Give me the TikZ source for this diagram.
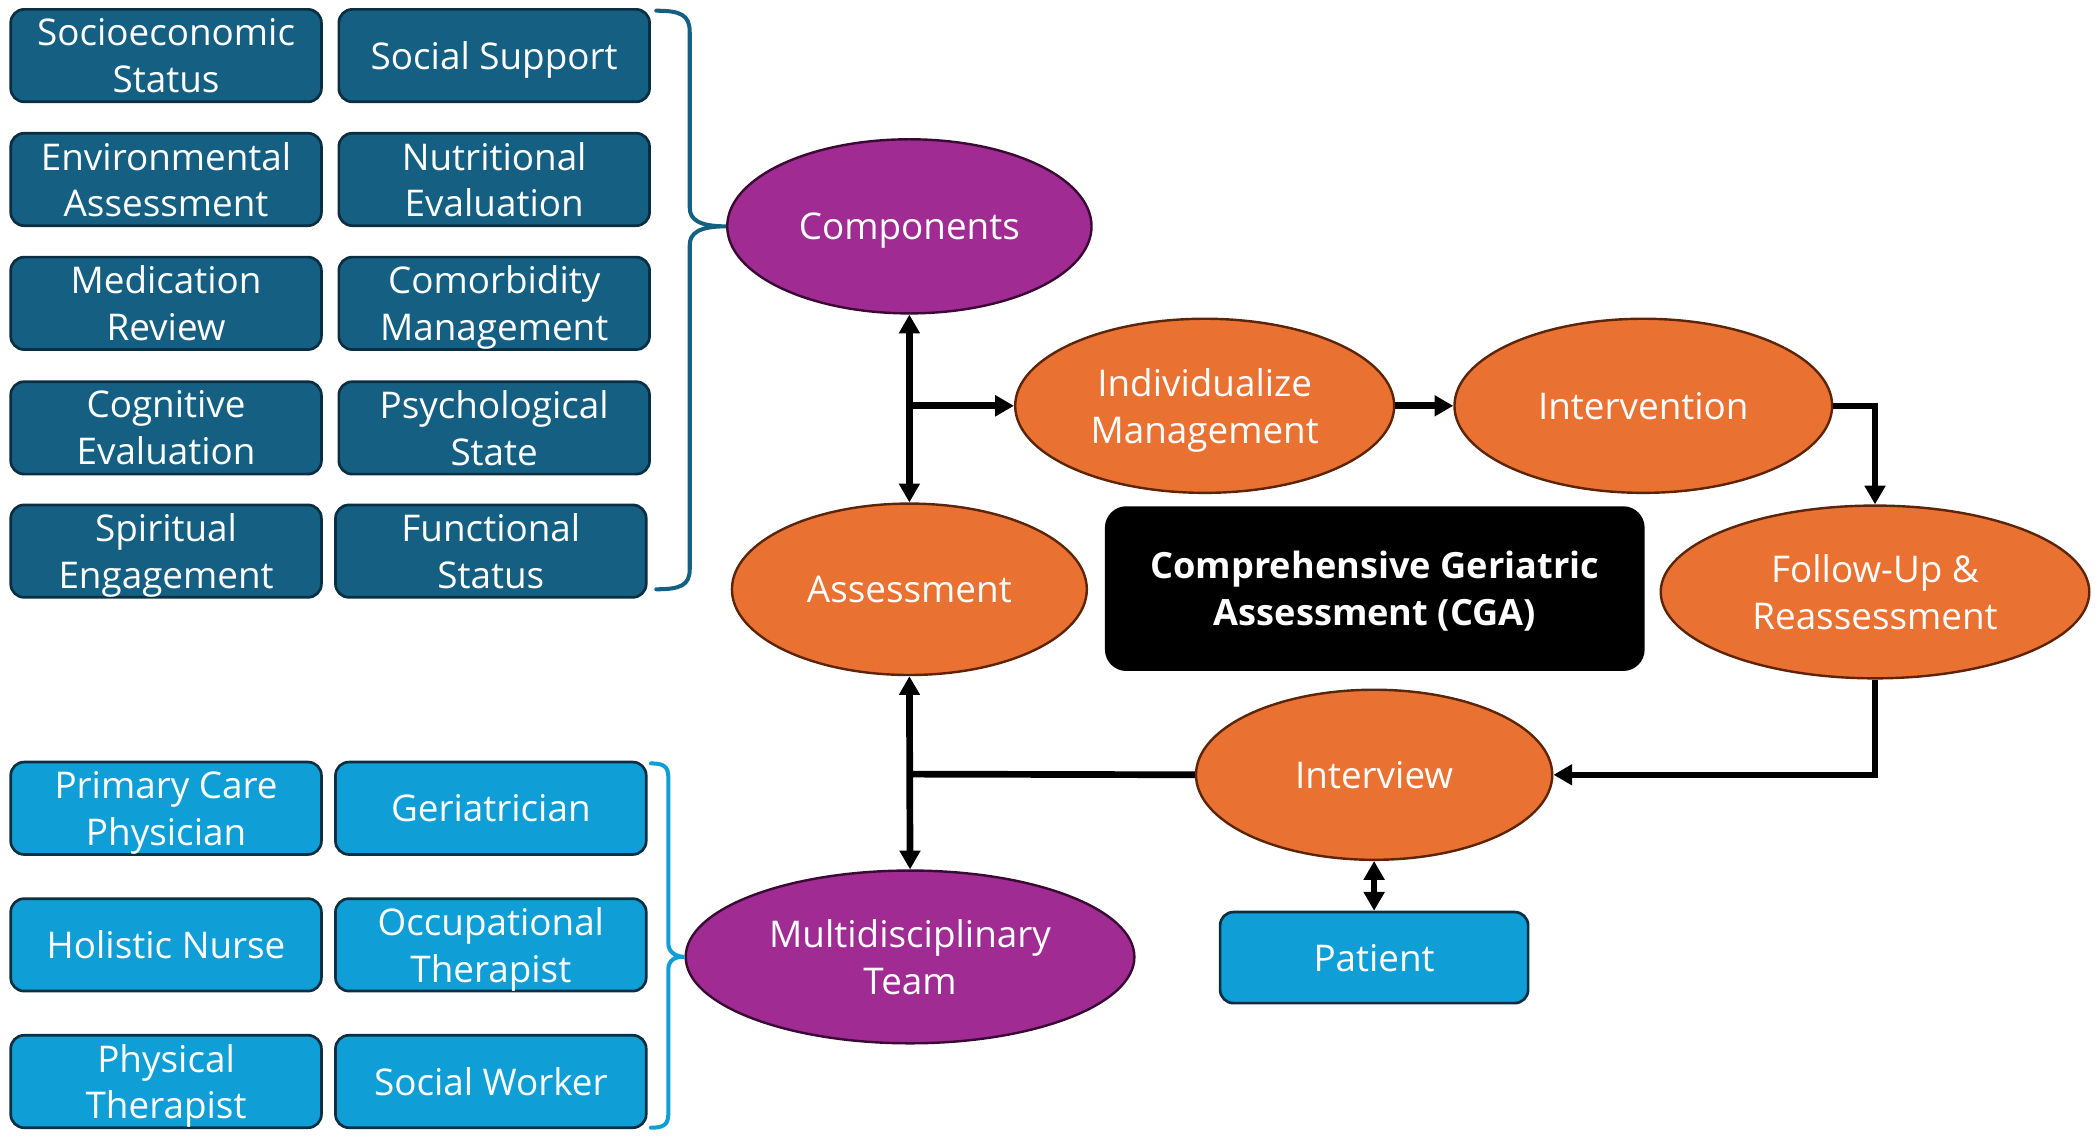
\documentclass[tikz,border=0pt]{standalone}
\usepackage{fontspec}
\setmainfont{Open Sans}
\usetikzlibrary{shapes.geometric,arrows.meta}
\definecolor{cdark}{HTML}{156082}
\definecolor{clight}{HTML}{0F9ED5}
\definecolor{cpurple}{HTML}{A02B93}
\definecolor{corange}{HTML}{E97132}
\definecolor{cbord}{HTML}{0A2E42}
\definecolor{cobord}{HTML}{5E2408}
\definecolor{cpbord}{HTML}{3A0A35}
\begin{document}
\begin{tikzpicture}[x=1pt,y=-1pt,
  txt/.style={text=white, align=center, font=\fontsize{27.5}{35}\selectfont, inner sep=0pt, text depth=0pt},
  box/.style={txt, rectangle, rounded corners=10pt, draw=cbord, line width=2pt, minimum width=232pt, minimum height=69pt},
  dbox/.style={box, fill=cdark},
  lbox/.style={box, fill=clight},
  ell/.style={txt, ellipse, line width=1.8pt},
  oell/.style={ell, fill=corange, draw=cobord},
  pell/.style={ell, fill=cpurple, draw=cpbord},
  tip/.style={-{Triangle[length=14pt,width=15pt]}},
  dtip/.style={{Triangle[length=14pt,width=15pt]}-{Triangle[length=14pt,width=15pt]}},
  conn/.style={line width=5pt, black},
  bracestyle/.style={line width=3pt, line cap=round}
]
\useasboundingbox (0,0) rectangle (1568,851);

% top-left component boxes
\node[dbox] (s1) at (124,41.5) {Socioeconomic\\Status};
\node[dbox] (s2) at (369,41.5) {Social Support};
\node[dbox] (s3) at (124,134) {Environmental\\Assessment};
\node[dbox] (s4) at (369,134) {Nutritional\\Evaluation};
\node[dbox] (s5) at (124,226.5) {Medication\\Review};
\node[dbox] (s6) at (369,226.5) {Comorbidity\\Management};
\node[dbox] (s7) at (124,319.5) {Cognitive\\Evaluation};
\node[dbox] (s8) at (369,319.5) {Psychological\\State};
\node[dbox] (s9) at (124,411.5) {Spiritual\\Engagement};
\node[dbox] (s10) at (366.5,411.5) {Functional\\Status};

% bottom-left team boxes
\node[lbox] (t1) at (124,603.5) {Primary Care\\Physician};
\node[lbox] (t2) at (366.5,603.5) {Geriatrician};
\node[lbox] (t3) at (124,705.5) {Holistic Nurse};
\node[lbox] (t4) at (366.5,705.5) {Occupational\\Therapist};
\node[lbox] (t5) at (124,807.5) {Physical\\Therapist};
\node[lbox] (t6) at (366.5,807.5) {Social Worker};

% ellipses
\node[pell, minimum width=272pt, minimum height=130pt] (comp) at (679,169) {Components};
\node[oell, minimum width=283pt, minimum height=130pt] (indiv) at (899.5,303) {Individualize\\Management};
\node[oell, minimum width=282pt, minimum height=130pt] (interv) at (1227,303) {Intervention};
\node[oell, minimum width=265pt, minimum height=128pt] (assess) at (679,440) {Assessment};
\node[oell, minimum width=320pt, minimum height=129pt] (follow) at (1400,442) {Follow-Up \&\\Reassessment};
\node[oell, minimum width=266pt, minimum height=127pt] (interview) at (1026,578.5) {Interview};
\node[pell, minimum width=335pt, minimum height=129pt] (multi) at (679.5,714.5) {Multidisciplinary\\Team};

% patient and centre title
\node[lbox, minimum width=230pt, minimum height=68pt] (pat) at (1026,715) {Patient};
\node[txt, rectangle, rounded corners=16pt, fill=black, minimum width=403pt, minimum height=123pt, font=\bfseries\fontsize{27}{35}\selectfont] (cga) at (1026.5,439.5) {Comprehensive Geriatric\\Assessment (CGA)};

% braces
\draw[bracestyle, draw=cdark] (490,8) .. controls (508,8) and (515,11) .. (515,24) -- (515,155)
  .. controls (515,164) and (522,169) .. (comp.west)
  .. controls (522,169) and (515,174) .. (515,183) -- (515,425)
  .. controls (515,437) and (508,440) .. (490,440);
\draw[bracestyle, draw=clight] (486,570) .. controls (495,570) and (499,572) .. (499,580) -- (499,704)
  .. controls (499,711) and (504,714) .. (multi.west)
  .. controls (504,714) and (499,717) .. (499,724) -- (499,832)
  .. controls (499,840) and (495,842) .. (486,842);

% connectors
\coordinate (j1) at (679,303);
\coordinate (j2) at (679,578);
\draw[conn, dtip] (comp.south) -- (assess.north);
\draw[conn, tip] (j1) -- (indiv.west);
\draw[conn, tip] (indiv.east) -- (interv.west);
\draw[conn, line width=4.5pt, tip] (interv.east) -| (follow.north);
\draw[conn, line width=4.5pt, tip] (follow.south) |- (interview.east);
\draw[conn] (interview.west) -- (j2);
\draw[conn, dtip] (assess.south) -- (multi.north);
\draw[conn, dtip] (interview.south) -- (pat.north);
\end{tikzpicture}
\end{document}
